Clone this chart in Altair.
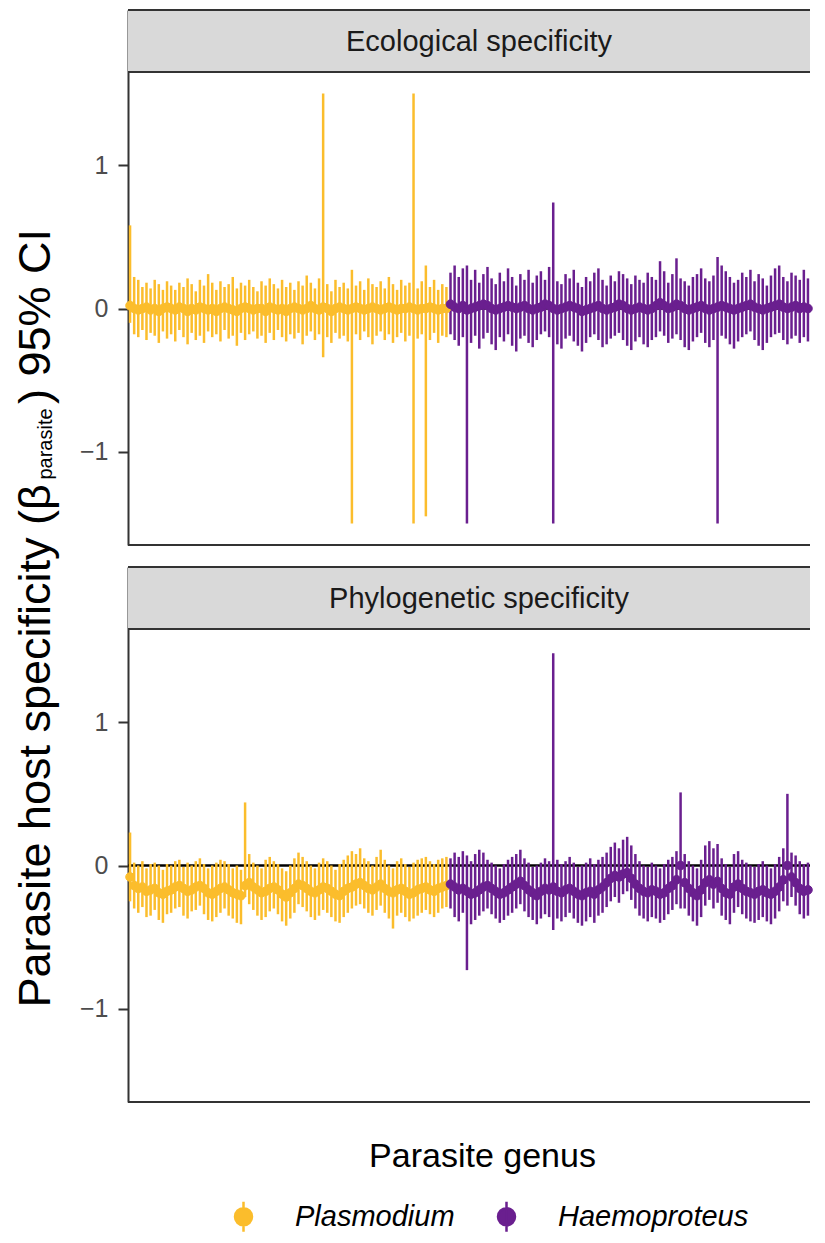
import altair as alt
import pandas as pd

# ---------------- data ----------------
GENERA = ["Plasmodium", "Haemoproteus"]
COLORS = ["#FBBD2C", "#6A1F8F"]
PANELS = ["Ecological specificity", "Phylogenetic specificity"]
X_TITLE = "Parasite genus"
Y_TITLE_MAIN = "Parasite host specificity (\u03b2"
Y_TITLE_SUB = "parasite"
Y_TITLE_END = ") 95% CI"
Y_TICKS = [-1, 0, 1]
N_PLAS = 78
N_HAEM = 88

# Ecological specificity - Plasmodium
eco_plas_est = [0.02, 0.00, -0.01, 0.00, 0.01, -0.01, 0.00, -0.02, 0.00, 0.01,
                0.00, -0.01, 0.01, 0.00, -0.02, 0.00, -0.01, 0.01, 0.00, -0.01,
                0.00, -0.02, 0.00, 0.01, 0.00, -0.01, -0.02, 0.00, 0.01, 0.00,
                -0.01, 0.00, 0.00, -0.02, 0.01, 0.00, -0.01, 0.00, -0.02, 0.00,
                0.01, 0.00, -0.01, 0.00, 0.02, 0.00, -0.01, 0.01, 0.00, -0.02,
                0.00, 0.01, 0.00, -0.01, 0.00, 0.01, 0.00, -0.01, 0.00, 0.01,
                0.00, -0.01, 0.00, 0.01, 0.00, -0.01, 0.00, 0.00, 0.01, 0.00,
                -0.01, 0.00, 0.00, 0.01, 0.00, -0.01, 0.00, 0.00]
eco_plas_hi = [0.58, 0.22, 0.20, 0.15, 0.18, 0.14, 0.20, 0.17, 0.13, 0.19,
               0.16, 0.13, 0.18, 0.15, 0.21, 0.17, 0.12, 0.20, 0.16, 0.24,
               0.18, 0.13, 0.19, 0.15, 0.17, 0.22, 0.14, 0.18, 0.16, 0.20,
               0.15, 0.12, 0.19, 0.16, 0.21, 0.17, 0.14, 0.20, 0.15, 0.18,
               0.13, 0.19, 0.16, 0.23, 0.18, 0.14, 0.21, 1.50, 0.17, 0.12,
               0.20, 0.15, 0.18, 0.14, 0.27, 0.16, 0.19, 0.13, 0.21, 0.17,
               0.15, 0.19, 0.14, 0.22, 0.17, 0.13, 0.20, 0.16, 0.18, 1.50,
               0.14, 0.19, 0.30, 0.15, 0.20, 0.13, 0.17, 0.15]
eco_plas_lo = [-0.10, -0.18, -0.20, -0.15, -0.22, -0.17, -0.19, -0.24, -0.16, -0.21,
               -0.18, -0.23, -0.15, -0.20, -0.25, -0.17, -0.22, -0.19, -0.24, -0.16,
               -0.20, -0.18, -0.23, -0.15, -0.21, -0.19, -0.26, -0.17, -0.22, -0.18,
               -0.16, -0.21, -0.19, -0.24, -0.17, -0.22, -0.15, -0.20, -0.23, -0.18,
               -0.21, -0.17, -0.25, -0.19, -0.16, -0.22, -0.18, -0.34, -0.20, -0.24,
               -0.17, -0.21, -0.19, -0.23, -1.50, -0.18, -0.22, -0.16, -0.20, -0.25,
               -0.19, -0.16, -0.22, -0.18, -0.24, -0.20, -0.17, -0.23, -0.19, -1.50,
               -0.21, -0.18, -1.45, -0.22, -0.17, -0.24, -0.19, -0.20]

# Ecological specificity - Haemoproteus
eco_haem_est = [0.03, 0.01, 0.00, 0.02, -0.01, 0.00, 0.01, 0.02, 0.03, 0.02,
                0.00, -0.01, 0.00, 0.01, 0.02, 0.01, 0.00, 0.01, 0.02, 0.00,
                -0.01, 0.00, 0.01, 0.03, 0.02, 0.00, -0.01, 0.00, 0.01, 0.02,
                0.01, 0.00, -0.02, -0.01, 0.00, 0.01, 0.02, 0.00, -0.01, 0.00,
                0.01, 0.03, 0.02, 0.00, -0.01, 0.00, 0.01, 0.00, -0.01, 0.00,
                0.02, 0.04, 0.02, 0.00, 0.01, 0.03, 0.02, 0.00, -0.01, 0.00,
                0.01, 0.02, 0.00, -0.01, 0.00, 0.01, 0.02, 0.01, 0.00, -0.01,
                0.00, 0.01, 0.02, 0.03, 0.01, 0.00, -0.01, 0.00, 0.01, 0.02,
                0.03, 0.01, 0.00, 0.01, 0.02, 0.00, 0.01, 0.00]
eco_haem_hi = [0.25, 0.30, 0.22, 0.28, 0.30, 0.20, 0.27, 0.18, 0.24, 0.29,
               0.21, 0.17, 0.25, 0.19, 0.28, 0.22, 0.16, 0.24, 0.20, 0.27,
               0.18, 0.23, 0.26, 0.20, 0.29, 0.74, 0.19, 0.17, 0.24, 0.21,
               0.27, 0.18, 0.15, 0.22, 0.19, 0.25, 0.28, 0.20, 0.16, 0.23,
               0.19, 0.26, 0.24, 0.21, 0.17, 0.23, 0.20, 0.18, 0.25, 0.22,
               0.20, 0.33, 0.26, 0.18, 0.24, 0.35, 0.21, 0.19, 0.16, 0.22,
               0.24, 0.28, 0.21, 0.19, 0.23, 0.36, 0.30, 0.26, 0.22, 0.18,
               0.20, 0.25, 0.22, 0.27, 0.19, 0.24, 0.21, 0.16, 0.23, 0.28,
               0.30, 0.22, 0.19, 0.25, 0.23, 0.20, 0.27, 0.21]
eco_haem_lo = [-0.18, -0.22, -0.26, -0.20, -1.50, -0.24, -0.19, -0.28, -0.21, -0.17,
               -0.25, -0.29, -0.20, -0.23, -0.18, -0.26, -0.30, -0.21, -0.19, -0.24,
               -0.27, -0.22, -0.18, -0.16, -0.20, -1.50, -0.25, -0.28, -0.21, -0.19,
               -0.23, -0.26, -0.30, -0.24, -0.20, -0.18, -0.22, -0.27, -0.25, -0.21,
               -0.19, -0.17, -0.22, -0.26, -0.29, -0.23, -0.20, -0.25, -0.27, -0.22,
               -0.20, -0.16, -0.19, -0.24, -0.21, -0.18, -0.22, -0.27, -0.29, -0.23,
               -0.20, -0.17, -0.24, -0.27, -0.22, -1.50, -0.19, -0.21, -0.25, -0.28,
               -0.23, -0.20, -0.18, -0.16, -0.22, -0.26, -0.29, -0.24, -0.20, -0.18,
               -0.17, -0.22, -0.25, -0.21, -0.19, -0.24, -0.20, -0.23]

# Phylogenetic specificity - Plasmodium
phy_plas_est = [-0.08, -0.14, -0.16, -0.15, -0.18, -0.17, -0.16, -0.19, -0.20, -0.18,
                -0.17, -0.15, -0.14, -0.16, -0.18, -0.17, -0.15, -0.14, -0.16, -0.19,
                -0.20, -0.18, -0.16, -0.15, -0.17, -0.19, -0.20, -0.21, -0.14, -0.12,
                -0.15, -0.17, -0.19, -0.18, -0.16, -0.15, -0.17, -0.20, -0.22, -0.19,
                -0.16, -0.13, -0.14, -0.16, -0.18, -0.19, -0.17, -0.15, -0.16, -0.18,
                -0.20, -0.21, -0.18, -0.16, -0.15, -0.13, -0.12, -0.14, -0.16, -0.17,
                -0.15, -0.13, -0.16, -0.18, -0.19, -0.17, -0.16, -0.18, -0.20, -0.19,
                -0.17, -0.16, -0.15, -0.17, -0.18, -0.16, -0.15, -0.14]
phy_plas_hi = [0.23, 0.02, 0.00, 0.03, -0.02, 0.01, 0.02, 0.00, -0.03, 0.01,
               0.00, 0.03, 0.04, -0.01, 0.02, 0.00, 0.03, 0.05, 0.01, -0.02,
               0.00, 0.02, 0.04, 0.03, 0.01, -0.02, 0.00, -0.03, 0.44, 0.08,
               0.02, 0.00, -0.02, 0.04, 0.06, 0.03, 0.01, -0.02, -0.04, 0.00,
               0.05, 0.09, 0.06, 0.03, 0.00, -0.02, 0.02, 0.05, 0.03, 0.00,
               -0.03, 0.01, 0.04, 0.07, 0.10, 0.08, 0.12, 0.05, 0.03, 0.00,
               0.06, 0.11, 0.04, 0.00, -0.02, 0.03, 0.05, 0.01, -0.01, 0.02,
               0.04, 0.05, 0.06, 0.03, 0.01, 0.04, 0.05, 0.06]
phy_plas_lo = [-0.25, -0.30, -0.33, -0.29, -0.36, -0.35, -0.31, -0.38, -0.40, -0.34,
               -0.33, -0.30, -0.29, -0.35, -0.37, -0.32, -0.31, -0.28, -0.34, -0.38,
               -0.39, -0.36, -0.33, -0.30, -0.35, -0.37, -0.40, -0.41, -0.22, -0.27,
               -0.31, -0.35, -0.38, -0.36, -0.32, -0.30, -0.34, -0.39, -0.42, -0.37,
               -0.33, -0.27, -0.29, -0.32, -0.36, -0.38, -0.35, -0.31, -0.33, -0.36,
               -0.39, -0.40, -0.36, -0.33, -0.30, -0.28, -0.27, -0.30, -0.33, -0.35,
               -0.31, -0.28, -0.33, -0.37, -0.44, -0.35, -0.33, -0.36, -0.39, -0.37,
               -0.35, -0.33, -0.31, -0.34, -0.36, -0.33, -0.30, -0.29]

# Phylogenetic specificity - Haemoproteus
phy_haem_est = [-0.13, -0.15, -0.17, -0.16, -0.18, -0.20, -0.19, -0.17, -0.15, -0.14,
                -0.16, -0.18, -0.20, -0.19, -0.17, -0.15, -0.13, -0.11, -0.14, -0.17,
                -0.19, -0.21, -0.18, -0.16, -0.17, -0.15, -0.18, -0.19, -0.17, -0.16,
                -0.18, -0.20, -0.21, -0.19, -0.18, -0.20, -0.17, -0.15, -0.12, -0.09,
                -0.07, -0.08, -0.06, -0.05, -0.09, -0.13, -0.16, -0.18, -0.19, -0.17,
                -0.18, -0.20, -0.19, -0.16, -0.14, -0.10, 0.00, -0.12, -0.16, -0.19,
                -0.21, -0.17, -0.12, -0.10, -0.13, -0.11, -0.16, -0.19, -0.20, -0.15,
                -0.13, -0.16, -0.18, -0.19, -0.20, -0.18, -0.17, -0.19, -0.20, -0.18,
                -0.15, -0.10, 0.00, -0.08, -0.12, -0.16, -0.18, -0.17]
phy_haem_hi = [0.05, 0.09, 0.06, 0.10, 0.07, 0.03, 0.08, 0.11, 0.09, 0.04,
               0.02, 0.00, -0.02, 0.01, 0.04, 0.06, 0.08, 0.11, 0.05, 0.02,
               -0.01, 0.00, 0.02, 0.05, 0.03, 1.48, 0.04, 0.01, 0.03, 0.06,
               0.02, -0.01, 0.00, 0.02, 0.05, 0.01, 0.04, 0.06, 0.09, 0.13,
               0.16, 0.12, 0.18, 0.20, 0.14, 0.08, 0.03, 0.00, -0.01, 0.02,
               0.00, -0.02, 0.01, 0.04, 0.06, 0.10, 0.51, 0.08, 0.03, 0.00,
               -0.02, 0.04, 0.14, 0.17, 0.12, 0.15, 0.05, 0.01, -0.01, 0.08,
               0.10, 0.04, 0.02, 0.00, -0.01, 0.01, 0.03, 0.00, -0.02, 0.01,
               0.06, 0.12, 0.50, 0.09, 0.07, 0.03, 0.01, 0.02]
phy_haem_lo = [-0.30, -0.36, -0.39, -0.33, -0.73, -0.41, -0.38, -0.35, -0.32, -0.30,
               -0.34, -0.37, -0.40, -0.38, -0.35, -0.33, -0.30, -0.27, -0.32, -0.36,
               -0.38, -0.41, -0.37, -0.34, -0.36, -0.45, -0.37, -0.39, -0.36, -0.33,
               -0.37, -0.40, -0.42, -0.39, -0.36, -0.40, -0.35, -0.33, -0.29, -0.25,
               -0.22, -0.26, -0.20, -0.18, -0.24, -0.30, -0.35, -0.37, -0.39, -0.36,
               -0.37, -0.40, -0.38, -0.34, -0.31, -0.27, -0.30, -0.30, -0.35, -0.39,
               -0.42, -0.36, -0.28, -0.24, -0.30, -0.26, -0.35, -0.38, -0.41, -0.33,
               -0.29, -0.34, -0.37, -0.39, -0.40, -0.38, -0.36, -0.39, -0.41, -0.37,
               -0.32, -0.25, -0.28, -0.22, -0.28, -0.34, -0.37, -0.35]

# ---------------- layout constants ----------------
W = 682          # plot width
STRIP = 62       # strip height
PH = 473         # panel height
UNIT = PH / 3.3
YMIN = -1.65
YMAX = 1.65 + STRIP / UNIT
N = N_PLAS + N_HAEM
FONT = "Liberation Sans"
BORDER = "#333333"

genus_col = [GENERA[0]] * N_PLAS + [GENERA[1]] * N_HAEM

cscale = alt.Scale(domain=GENERA, range=COLORS)
xscale = alt.Scale(domain=[-0.5, N - 0.5], nice=False, zero=False)
yscale = alt.Scale(domain=[YMIN, YMAX], nice=False, zero=False)
yaxis = alt.Axis(values=Y_TICKS, title=None, grid=False, domainColor=BORDER,
                 domainWidth=2, tickColor=BORDER, tickWidth=2, tickSize=10,
                 labelPadding=10, labelFontSize=25, labelColor="#4D4D4D",
                 labelFont=FONT)

LEG_SYMBOL = "M0,-1.5L0,1.5M-0.85,0A0.85,0.85,0,1,0,0.85,0A0.85,0.85,0,1,0,-0.85,0Z"
LEG = alt.Legend(title=None, orient="none", legendX=101, legendY=1192,
                 direction="horizontal", symbolType=LEG_SYMBOL, symbolSize=400,
                 symbolStrokeWidth=2.5, symbolOpacity=1, labelFontSize=29,
                 labelFontStyle="italic", labelFont=FONT, labelColor="black",
                 labelOffset=37, columnPadding=37, labelLimit=400)

one = pd.DataFrame({"k": [0]})


def hrule(ypix):
    return alt.Chart(one).mark_rule(color=BORDER, strokeWidth=2).encode(
        x=alt.value(0), x2=alt.value(W), y=alt.value(ypix))


def make_panel(est, lo, hi, title, bottom, first):
    df = pd.DataFrame({"idx": list(range(N)), "genus": genus_col,
                       "est": est, "lo": lo, "hi": hi})
    if bottom:
        xaxis = alt.Axis(title=X_TITLE, labels=False, ticks=False, domain=False,
                         grid=False, titleFontSize=34, titleFontWeight="normal",
                         titleColor="black", titleFont=FONT, titlePadding=37,
                         titleX=354, titleAlign="center")
    else:
        xaxis = None
    xenc = alt.X("idx:Q", scale=xscale, axis=xaxis)

    strip_bg = alt.Chart(one).mark_rect(color="#D9D9D9").encode(
        x=alt.value(0), x2=alt.value(W), y=alt.value(0), y2=alt.value(STRIP))
    zero = alt.Chart(pd.DataFrame({"z": [0.0]})).mark_rule(
        color="black", strokeWidth=2.5).encode(
        y=alt.Y("z:Q", scale=yscale, axis=yaxis))
    bars = alt.Chart(df).mark_rule(strokeWidth=2.5).encode(
        x=xenc,
        y=alt.Y("lo:Q", scale=yscale, axis=yaxis),
        y2="hi:Q",
        stroke=alt.Stroke("genus:N", scale=cscale, legend=LEG))
    pts = alt.Chart(df).mark_point(size=75, strokeWidth=1, opacity=1).encode(
        x=xenc,
        y=alt.Y("est:Q", scale=yscale, axis=yaxis),
        fill=alt.Fill("genus:N", scale=cscale, legend=LEG),
        stroke=alt.Stroke("genus:N", scale=cscale, legend=LEG))
    strip_txt = alt.Chart(one).mark_text(
        fontSize=29, color="#1A1A1A", font=FONT, align="center",
        baseline="middle").encode(
        x=alt.value(351), y=alt.value(STRIP / 2 + 1), text=alt.value(title))

    layers = [strip_bg, zero, bars, pts, hrule(0), hrule(STRIP),
              hrule(STRIP + PH), strip_txt]

    if first:
        t1 = alt.Chart(one).mark_text(
            fontSize=45, font=FONT, color="black", angle=270, align="right",
            baseline="alphabetic").encode(
            x=alt.value(-78), y=alt.value(474), text=alt.value(Y_TITLE_MAIN))
        t2 = alt.Chart(one).mark_text(
            fontSize=20, font=FONT, color="black", angle=270, align="center",
            baseline="alphabetic").encode(
            x=alt.value(-76), y=alt.value(434), text=alt.value(Y_TITLE_SUB))
        t3 = alt.Chart(one).mark_text(
            fontSize=45, font=FONT, color="black", angle=270, align="left",
            baseline="alphabetic").encode(
            x=alt.value(-78), y=alt.value(394), text=alt.value(Y_TITLE_END))
        edge = alt.Chart(one).mark_rule(opacity=0, strokeWidth=1).encode(
            x=alt.value(-120), x2=alt.value(-119), y=alt.value(100))
        layers += [t1, t2, t3, edge]

    return alt.layer(*layers).properties(width=W, height=STRIP + PH)


p1 = make_panel(eco_plas_est + eco_haem_est, eco_plas_lo + eco_haem_lo,
                eco_plas_hi + eco_haem_hi, PANELS[0], False, True)
p2 = make_panel(phy_plas_est + phy_haem_est, phy_plas_lo + phy_haem_lo,
                phy_plas_hi + phy_haem_hi, PANELS[1], True, False)

chart = alt.vconcat(p1, p2, spacing=22, bounds="flush").properties(
    padding={"left": 0, "top": 1, "right": 0, "bottom": 0}
).configure(font=FONT).configure_view(stroke=None)

chart.save("out.html", embed_options={"renderer": "svg", "actions": False})
